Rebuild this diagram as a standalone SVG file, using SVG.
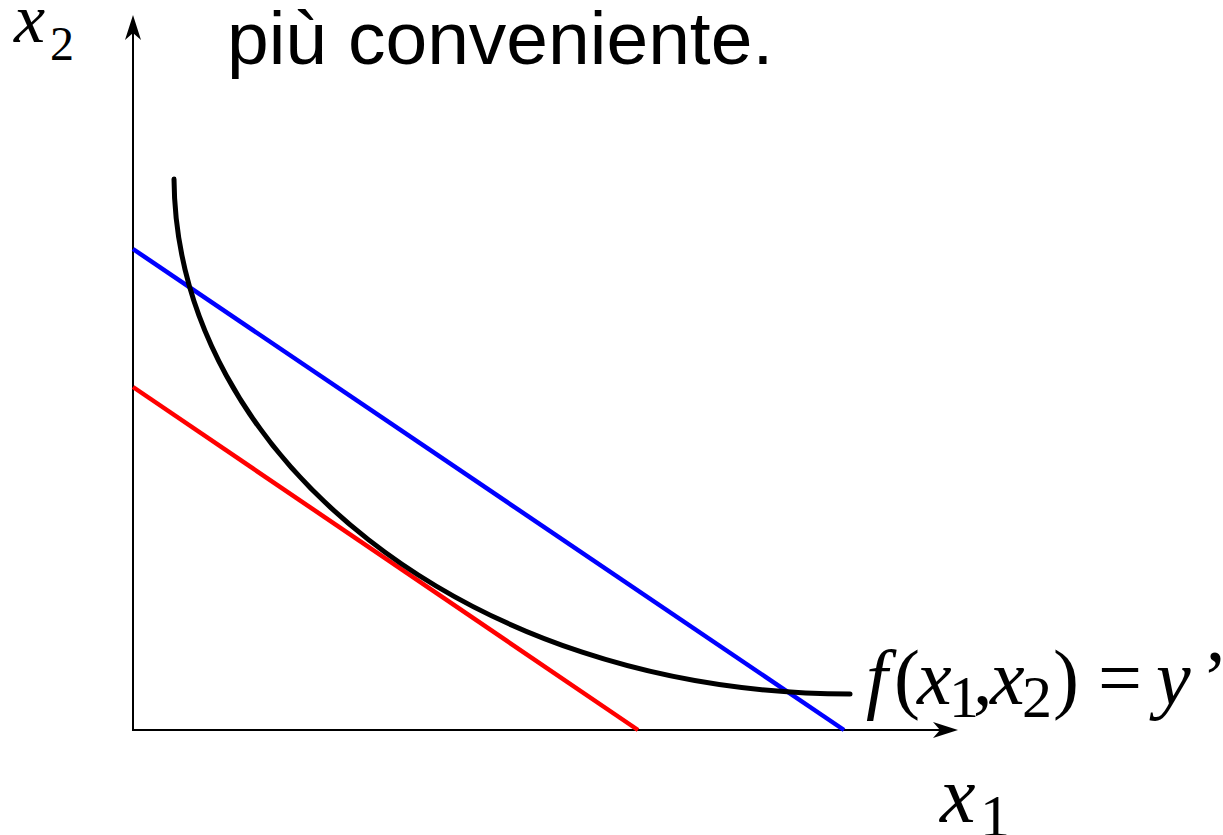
<svg xmlns="http://www.w3.org/2000/svg" width="1223" height="835" viewBox="0 0 1223 835">
<style>
.title{font-family:"Liberation Sans",Arial,sans-serif;font-size:75px;fill:#000}
.m{font-family:"Liberation Serif","Times New Roman",serif;fill:#000}
.i{font-style:italic}
.axis{stroke:#000;stroke-width:2;fill:none}
.line{stroke-width:4.5;fill:none}
</style>
<rect width="1223" height="835" fill="#fff"/>
<g id="title"><text class="title" x="227" y="64">più conveniente.</text></g>
<g id="axes">
<line class="axis" x1="133" y1="731" x2="133" y2="22"/>
<path d="M133,15 L141,40 L133,33 L125,40 Z" fill="#000"/>
<line class="axis" x1="132" y1="730" x2="950" y2="730"/>
<path d="M958,730 L933,738 L940,730 L933,722 Z" fill="#000"/>
</g>
<g id="connectors">
<line id="blue-line" class="line" stroke="#0000ff" x1="133" y1="249" x2="844" y2="730"/>
<line id="red-line" class="line" stroke="#ff0000" x1="133" y1="387" x2="638" y2="730"/>
<path id="isoquant" fill="none" stroke="#000" stroke-width="5" stroke-linecap="round" d="M174,179 C176,454 465,694 850,694"/>
</g>
<g id="label-x2"><text class="m" y="42"><tspan class="i" x="14" font-size="70">x</tspan><tspan x="50" y="60" font-size="48">2</tspan></text></g>
<g id="label-x1"><text class="m" y="822"><tspan class="i" x="940" font-size="80">x</tspan><tspan x="980" y="836" font-size="60">1</tspan></text></g>
<g id="label-f"><text class="m" y="704" font-size="78"><tspan class="i" x="866">f</tspan><tspan x="894">(</tspan><tspan class="i" x="917">x</tspan><tspan x="949" y="717" font-size="60">1</tspan><tspan x="973" y="704">,</tspan><tspan class="i" x="990">x</tspan><tspan x="1022" y="717" font-size="60">2</tspan><tspan x="1053" y="704">)</tspan><tspan x="1098">=</tspan><tspan class="i" x="1156">y</tspan><tspan x="1202">’</tspan></text></g>
</svg>
